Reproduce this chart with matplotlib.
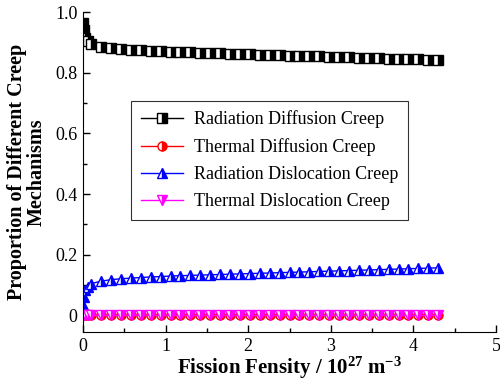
import numpy as np
import matplotlib.pyplot as plt
from matplotlib.ticker import MultipleLocator

plt.rcParams['font.family'] = 'Liberation Serif'
plt.rcParams['mathtext.fontset'] = 'custom'
plt.rcParams['mathtext.rm'] = 'Liberation Serif:bold'
plt.rcParams['mathtext.it'] = 'Liberation Serif:bold'

# fission density (10^27 m^-3)
x = [0.0, 0.01, 0.03, 0.06, 0.1, 0.22, 0.34, 0.46, 0.58, 0.7, 0.82, 0.94, 1.06, 1.18,
     1.3, 1.42, 1.54, 1.66, 1.78, 1.9, 2.02, 2.14, 2.26, 2.38, 2.5, 2.62, 2.74, 2.86,
     2.98, 3.1, 3.22, 3.34, 3.46, 3.58, 3.7, 3.82, 3.94, 4.06, 4.18, 4.3]

rad_diff = [0.965, 0.94, 0.915, 0.905, 0.895, 0.886, 0.881, 0.878, 0.876, 0.874, 0.872,
            0.871, 0.869, 0.868, 0.867, 0.866, 0.865, 0.864, 0.863, 0.862, 0.861, 0.860,
            0.859, 0.858, 0.857, 0.856, 0.855, 0.854, 0.853, 0.852, 0.851, 0.850, 0.849,
            0.848, 0.847, 0.846, 0.845, 0.844, 0.843, 0.842]
therm_diff = [0.001] * 40
rad_disl = [0.035, 0.06, 0.085, 0.095, 0.105, 0.113, 0.118, 0.121, 0.123, 0.125, 0.127,
            0.128, 0.13, 0.131, 0.132, 0.133, 0.134, 0.135, 0.136, 0.137, 0.138, 0.139,
            0.14, 0.141, 0.142, 0.143, 0.144, 0.145, 0.146, 0.147, 0.148, 0.149, 0.15,
            0.151, 0.152, 0.153, 0.154, 0.155, 0.156, 0.157]
therm_disl = [0.0] * 40

xticks = [0, 1, 2, 3, 4, 5]
yticks = [0, 0.2, 0.4, 0.6, 0.8, 1.0]
ytick_labels = ['0', '0.2', '0.4', '0.6', '0.8', '1.0']

fig = plt.figure(figsize=(5, 3.8), dpi=100)
ax = fig.add_axes([0.166, 0.126, 0.826, 0.842])

kw = dict(lw=1, ms=6.5, fillstyle='right', markerfacecoloralt='white')
ax.plot(x, rad_diff, color='black', marker='s', label='Radiation Diffusion Creep', **kw)
ax.plot(x, therm_diff, color='red', marker='o', label='Thermal Diffusion Creep', **kw)
ax.plot(x, rad_disl, color='blue', marker='^', label='Radiation Dislocation Creep', **kw)
ax.plot(x, therm_disl, color='magenta', marker='v', label='Thermal Dislocation Creep', **kw)

ax.set_xlim(0, 5)
ax.set_ylim(-0.055, 1.0)
ax.set_xticks(xticks)
ax.set_xticklabels([str(t) for t in xticks])
ax.xaxis.set_minor_locator(MultipleLocator(0.5))
ax.set_yticks(yticks)
ax.set_yticklabels(ytick_labels)
ax.yaxis.set_minor_locator(MultipleLocator(0.1))
ax.tick_params(direction='in', labelsize=13, length=5, width=1, pad=4)
ax.tick_params(which='minor', direction='in', length=3, width=1)
ax.spines['top'].set_visible(False)
ax.spines['right'].set_visible(False)

ax.set_xlabel('Fission Fensity / 10$^{27}$ m$^{-3}$', fontsize=15, fontweight='bold',
              labelpad=0)
ax.set_ylabel('Proportion of Different Creep\nMechanisms', fontsize=14.5,
              fontweight='bold', linespacing=1.0, labelpad=6)

leg = ax.legend(loc='upper left', bbox_to_anchor=(0.095, 0.752), fontsize=13,
                fancybox=False, edgecolor='black', handlelength=2.3, borderpad=0.55,
                labelspacing=0.55, handletextpad=0.6)
leg.get_frame().set_linewidth(0.8)

plt.savefig('out.png')
